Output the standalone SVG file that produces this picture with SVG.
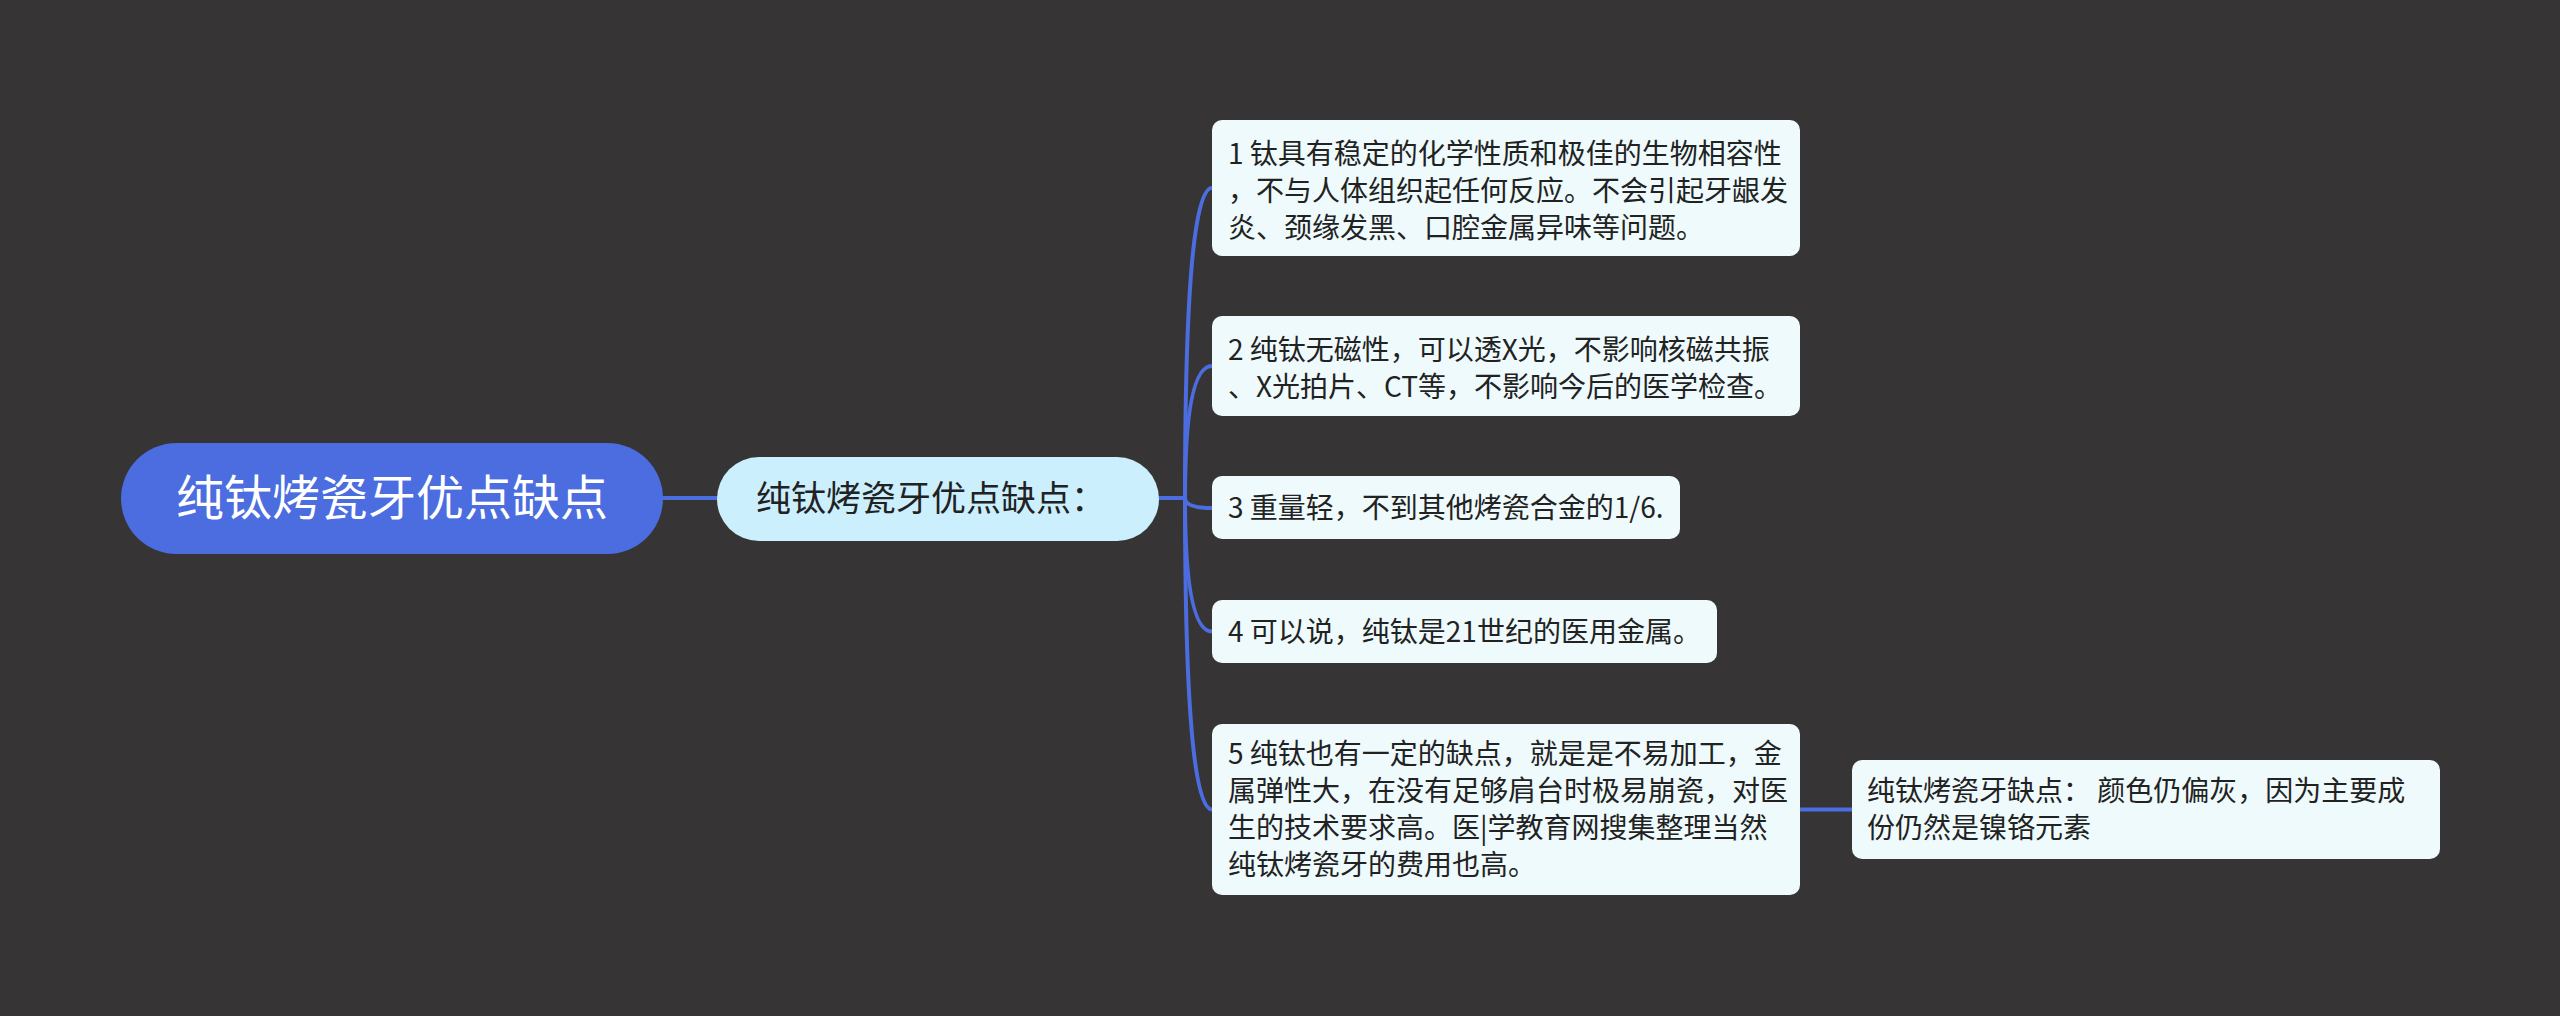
<svg xmlns="http://www.w3.org/2000/svg" width="2560" height="1016" viewBox="0 0 2560 1016">
<style>
.t{font-family:"Noto Sans CJK SC","Noto Sans",sans-serif;fill:#222}
.leaf{fill:#eefafc}
.edge{fill:none;stroke:#4b6ddf;stroke-width:4;stroke-linecap:round}
</style>
<rect x="0" y="0" width="2560" height="1016" fill="#363435"/>
<g id="connectors">
<path class="edge" d="M 663 498 L 717 498"/>
<path class="edge" d="M 1159 498 L 1185 498"/>
<path class="edge" d="M 1185 498 Q 1185 188 1212 188"/>
<path class="edge" d="M 1185 498 Q 1185 366 1212 366"/>
<path class="edge" d="M 1185 498 Q 1185 508 1212 508"/>
<path class="edge" d="M 1185 498 Q 1185 631.5 1212 631.5"/>
<path class="edge" d="M 1185 498 Q 1185 809.5 1212 809.5"/>
<path class="edge" d="M 1800 809.5 L 1852 809.5"/>
</g>
<g id="root">
<rect x="121" y="443" width="542" height="111" rx="55.5" fill="#4b6ddf"/>
<text class="t" x="392" y="515" font-size="48" text-anchor="middle" style="fill:#ffffff">纯钛烤瓷牙优点缺点</text>
</g>
<g id="sub">
<rect x="717" y="457" width="442" height="84" rx="42" fill="#cbeffd"/>
<text class="t" x="756" y="511" font-size="35">纯钛烤瓷牙优点缺点：</text>
</g>
<g id="leaf1">
<rect class="leaf" x="1212" y="120" width="588" height="136" rx="10"/>
<text class="t" font-size="28"><tspan x="1228" y="164">1 钛具有稳定的化学性质和极佳的生物相容性</tspan><tspan x="1228" y="201">，不与人体组织起任何反应。不会引起牙龈发</tspan><tspan x="1228" y="238">炎、颈缘发黑、口腔金属异味等问题。</tspan></text>
</g>
<g id="leaf2">
<rect class="leaf" x="1212" y="316" width="588" height="100" rx="10"/>
<text class="t" font-size="28"><tspan x="1228" y="360">2 纯钛无磁性，可以透X光，不影响核磁共振</tspan><tspan x="1228" y="397">、X光拍片、CT等，不影响今后的医学检查。</tspan></text>
</g>
<g id="leaf3">
<rect class="leaf" x="1212" y="476" width="468" height="63" rx="10"/>
<text class="t" font-size="28" x="1228" y="518">3 重量轻，不到其他烤瓷合金的1/6.</text>
</g>
<g id="leaf4">
<rect class="leaf" x="1212" y="600" width="505" height="63" rx="10"/>
<text class="t" font-size="28" x="1228" y="642">4 可以说，纯钛是21世纪的医用金属。</text>
</g>
<g id="leaf5">
<rect class="leaf" x="1212" y="724" width="588" height="171" rx="10"/>
<text class="t" font-size="28"><tspan x="1228" y="764">5 纯钛也有一定的缺点，就是是不易加工，金</tspan><tspan x="1228" y="801">属弹性大，在没有足够肩台时极易崩瓷，对医</tspan><tspan x="1228" y="838">生的技术要求高。医|学教育网搜集整理当然</tspan><tspan x="1228" y="875">纯钛烤瓷牙的费用也高。</tspan></text>
</g>
<g id="leaf6">
<rect class="leaf" x="1852" y="760" width="588" height="99" rx="10"/>
<text class="t" font-size="28"><tspan x="1867" y="801">纯钛烤瓷牙缺点： 颜色仍偏灰，因为主要成</tspan><tspan x="1867" y="838">份仍然是镍铬元素</tspan></text>
</g>
</svg>
